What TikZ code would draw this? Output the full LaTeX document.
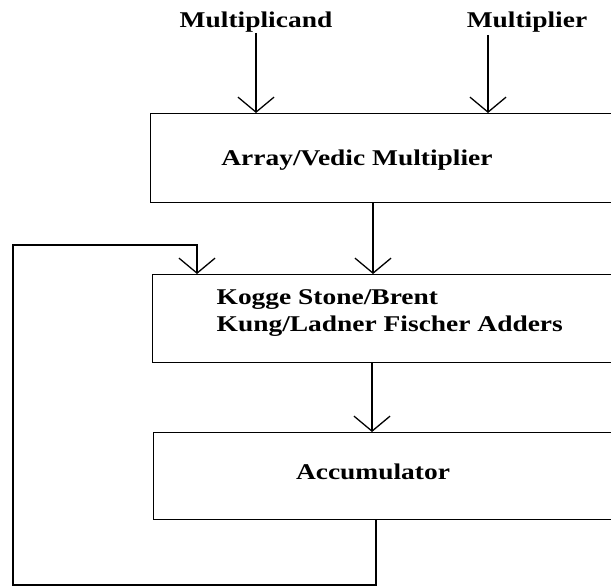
\documentclass[tikz,border=0pt]{standalone}
\usepackage{fontspec}
\setmainfont{Liberation Serif}
\usetikzlibrary{arrows.meta,positioning}

% wide bold lettering used in all the blocks
\newcommand{\wide}[1]{\scalebox{1.22}[1]{#1}}

\begin{document}
\begin{tikzpicture}[line width=1.3pt, x=1pt, y=-1pt,
    >={Straight Barb[length=15pt,width=36pt]},
    blk/.style={draw, anchor=north west, minimum width=520pt, inner sep=0pt},
    lbl/.style={font=\fontsize{22.5}{27}\selectfont\bfseries, inner sep=0pt}]
  \useasboundingbox (0,0) rectangle (611,588);
  \clip (0,0) rectangle (611,588);

  % inputs
  \node[lbl] (mcand) at (256,22) {\wide{Multiplicand}};
  \node[lbl] (mplr) at (527,22) {\wide{Multiplier}};
  \coordinate (mplr in) at (488,35);

  % blocks (open to the right)
  \node[blk, minimum height=89pt] (mul) at (150,113) {};
  \node[blk, minimum height=88pt] (add) at (152,274) {};
  \node[blk, minimum height=87pt] (acc) at (153,432) {};

  \node[lbl] (multxt) at (357,160) {\wide{Array/Vedic Multiplier}};
  \node[lbl, align=left, anchor=west] (addtxt) at (216,313)
    {\wide{Kogge Stone/Brent}\\\wide{Kung/Ladner Fischer Adders}};
  \node[lbl] (acctxt) at (373,472) {\wide{Accumulator}};

  % data path
  \draw[->] (mcand.south) -- (mcand.south |- mul.north);
  \draw[->] (mplr in) -- (mplr in |- mul.north);
  \coordinate (mid1) at (373,0);
  \coordinate (mid2) at (372,0);
  \draw[->] (mul.south -| mid1) -- (add.north -| mid1);
  \draw[->] (add.south -| mid2) -- (acc.north -| mid2);

  % feedback from the accumulator
  \coordinate (fb) at (376,585);
  \coordinate (loop bl) at (13,585);
  \coordinate (loop tl) at (13,245);
  \draw[->] (acc.south -| fb) -- (fb) -- (loop bl) -- (loop tl)
    -| ([xshift=45pt]add.north west);
\end{tikzpicture}
\end{document}
